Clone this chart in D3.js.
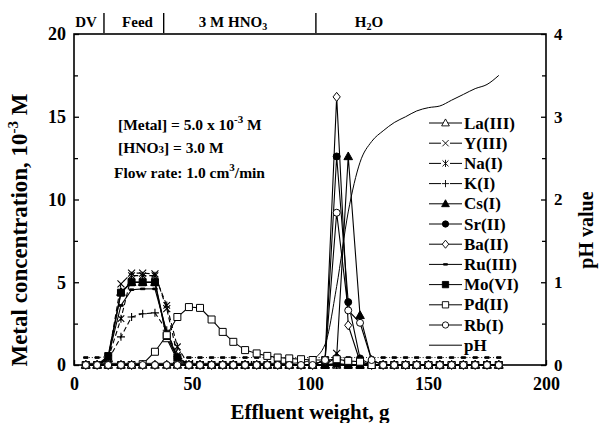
<!DOCTYPE html>
<html><head><meta charset="utf-8">
<script src="https://cdn.jsdelivr.net/npm/d3@7"></script>
<style>
body{margin:0;background:#fff}
svg text{font-family:"Liberation Serif","Times New Roman",serif;font-weight:bold;fill:#000}
</style>
</head><body>
<svg id="chart" width="600" height="423"></svg>
<script>
// ---------------- DATA ----------------
const weights = [5,9.8,14.5,19.9,24.4,29.1,34.3,39.3,43.8,
  48.7,53.4,58.3,63,67.5,72.5,77.4,81.9,86.3,91.2,
  96.2,101.1,106.4,111.3,116.2,121.2,126.1,131,135.7,140.5,
  145.2,150.2,155,160,165,170,175,180];
const La = [0,0,0.4,4.4,5.0,5.0,5.0,1.6,0.3, 0,0,0,0,0,0,0,0,0,0, 0,0,0,0,0,0,0,0,0,0, 0,0,0,0,0,0,0,0];
const Y  = [0,0,0.4,4.9,5.55,5.55,5.5,3.4,0.6, 0,0,0,0,0,0,0,0,0,0, 0,0,0,0.7,0,0,0,0,0,0, 0,0,0,0,0,0,0,0];
const Na = [0,0,0.4,2.8,5.4,5.4,5.4,3.6,1.1, 0,0,0,0,0,0,0,0,0,0, 0,0,0,0,0,0,0,0,0,0, 0,0,0,0,0,0,0,0];
const K  = [0,0,0.3,1.7,2.9,3.1,3.15,2.1,0.5, 0,0,0,0,0,0,0,0,0,0, 0,0,0,0,0,0,0,0,0,0, 0,0,0,0,0,0,0,0];
const Cs = [0,0,0,0,0,0,0,0,0, 0,0,0,0,0,0,0,0,0,0, 0,0,0,0.5,12.6,3.0,0.3,0,0,0, 0,0,0,0,0,0,0,0];
const Sr = [0,0,0,0,0,0,0,0,0, 0,0,0,0,0,0,0,0,0,0, 0,0,0.3,12.6,3.8,0.4,0,0,0,0, 0,0,0,0,0,0,0,0];
const Ba = [0,0,0,0,0,0,0,0,0, 0,0,0,0,0,0,0,0,0,0, 0,0,0.3,16.2,2.4,0.2,0,0,0,0, 0,0,0,0,0,0,0,0];
const Ru = [0.45,0.45,0.5,3.6,4.55,4.6,4.6,2.0,0.45, 0.45,0.45,0.45,0.45,0.45,0.45,0.45,0.45,0.45,0.45,
  0.45,0.45,0.45,0.45,0.45,0.45,0.45,0.45,0.45,0.45, 0.45,0.45,0.45,0.45,0.45,0.45,0.45,0.45];
const Mo = [0,0,0.54,4.37,5.0,5.0,5.0,1.75,0.45, 0,0,0,0,0,0,0,0,0,0, 0,0,0,0.1,0,0,0,0,0,0, 0,0,0,0,0,0,0,0];
const Pd = [0,0,0,0,0,0.05,0.8,1.8,2.9, 3.5,3.45,2.75,2.0,1.4,0.9,0.7,0.55,0.45,0.4,
  0.35,0.3,0.3,0.35,0.25,0.2,0,0,0,0, 0,0,0,0,0,0,0,0];
const Rb = [0,0,0,0,0,0,0,0,0, 0,0,0,0,0,0,0,0,0,0, 0,0,0.3,9.2,3.3,2.55,0.3,0,0,0, 0,0,0,0,0,0,0,0];
const pH = [0.02,0.02,0.02,0.02,0.02,0.02,0.02,0.02,0.02, 0.02,0.02,0.02,0.02,0.02,0.02,0.02,0.02,0.02,0.02,
  0.03,0.07,0.25,0.95,1.85,2.45,2.7,2.83,2.93,3.0, 3.07,3.11,3.13,3.2,3.27,3.34,3.39,3.5];

const seriesNames = ["La(III)","Y(III)","Na(I)","K(I)","Cs(I)","Sr(II)","Ba(II)","Ru(III)","Mo(VI)","Pd(II)","Rb(I)"];
const seriesValues = [La,Y,Na,K,Cs,Sr,Ba,Ru,Mo,Pd,Rb];
const xTicks = [0,50,100,150,200];
const yTicks = [0,5,10,15,20];
const pHTicks = [0,1,2,3,4];
const phaseLabels = ["DV","Feed","3 M HNO3","H2O"];
const phaseStarts = [0,12.7,38,102.5];

// ---------------- STYLES ----------------
const styles = {
  "La(III)":{m:"triUp", fill:false, dash:null},
  "Y(III)":{m:"x", fill:false, dash:"5,3"},
  "Na(I)":{m:"ast", fill:false, dash:"5,3"},
  "K(I)":{m:"plus", fill:false, dash:"5,3"},
  "Cs(I)":{m:"triUp", fill:true, dash:null},
  "Sr(II)":{m:"circle", fill:true, dash:null},
  "Ba(II)":{m:"diamond", fill:false, dash:null},
  "Ru(III)":{m:"dash", fill:true, dash:null},
  "Mo(VI)":{m:"square", fill:true, dash:null},
  "Pd(II)":{m:"square", fill:false, dash:null},
  "Rb(I)":{m:"circle", fill:false, dash:null}
};
function markerPath(t){
  switch(t){
    case "triUp": return "M0,-4.5L4.3,3.2L-4.3,3.2Z";
    case "x": return "M-3.5,-3.5L3.5,3.5M-3.5,3.5L3.5,-3.5";
    case "ast": return "M-3.3,-3.3L3.3,3.3M-3.3,3.3L3.3,-3.3M0,-4L0,4";
    case "plus": return "M-4,0L4,0M0,-4L0,4";
    case "circle": return "M3.5,0A3.5,3.5 0 1 1 -3.5,0A3.5,3.5 0 1 1 3.5,0Z";
    case "diamond": return "M0,-4.5L3.6,0L0,4.5L-3.6,0Z";
    case "dash": return "M-2.2,-0.8L2.2,-0.8L2.2,0.8L-2.2,0.8Z";
    case "square": return "M-3.5,-3.5L3.5,-3.5L3.5,3.5L-3.5,3.5Z";
  }
}

// ---------------- CHART ----------------
const svg = d3.select("#chart");
const L = 74, R = 546, T = 34, B = 365;
const x = d3.scaleLinear().domain([0,200]).range([L,R]);
const y = d3.scaleLinear().domain([0,20]).range([B,T]);
const yR = d3.scaleLinear().domain([0,4]).range([B,T]);

svg.append("rect").attr("x",L).attr("y",T).attr("width",R-L).attr("height",B-T)
  .attr("fill","none").attr("stroke","#000").attr("stroke-width",1.6);

const gL = svg.append("g").attr("transform",`translate(${L},0)`)
  .call(d3.axisLeft(y).tickValues(yTicks).tickSize(-5).tickPadding(8).tickFormat(d3.format("d")));
const gLm = svg.append("g").attr("transform",`translate(${L},0)`)
  .call(d3.axisLeft(y).tickValues([2.5,7.5,12.5,17.5]).tickSize(-4).tickFormat(""));
const gR = svg.append("g").attr("transform",`translate(${R},0)`)
  .call(d3.axisRight(yR).tickValues(pHTicks).tickSize(-5).tickPadding(8).tickFormat(d3.format("d")));
const gRm = svg.append("g").attr("transform",`translate(${R},0)`)
  .call(d3.axisRight(yR).tickValues([0.5,1.5,2.5,3.5]).tickSize(-4).tickFormat(""));
const gB = svg.append("g").attr("transform",`translate(0,${B})`)
  .call(d3.axisBottom(x).tickValues(xTicks).tickSize(-5).tickPadding(12).tickFormat(d3.format("d")));
const gBm = svg.append("g").attr("transform",`translate(0,${B})`)
  .call(d3.axisBottom(x).tickValues([25,75,125,175]).tickSize(-4).tickFormat(""));
[gL,gLm,gR,gRm,gB,gBm].forEach(g=>{
  g.select(".domain").remove();
  g.selectAll("line").attr("stroke","#000").attr("stroke-width",1.3);
  g.selectAll("text").attr("font-size",18).attr("font-family",null);
});
gR.selectAll("text").attr("font-size",17);

// phase header
const phaseCenters = [86,137.5,233,369];
phaseLabels.forEach((lab,i)=>{
  const t = svg.append("text").attr("x",phaseCenters[i]).attr("y",27).attr("text-anchor","middle").attr("font-size",15);
  if(lab==="3 M HNO3"){ t.text("3 M HNO"); t.append("tspan").attr("font-size",10).attr("dy",3).text("3"); }
  else if(lab==="H2O"){ t.text("H"); t.append("tspan").attr("font-size",10).attr("dy",3).text("2"); t.append("tspan").attr("dy",-3).text("O"); }
  else t.text(lab);
  if(i>0){
    svg.append("line").attr("x1",x(phaseStarts[i])).attr("x2",x(phaseStarts[i])).attr("y1",13).attr("y2",33)
      .attr("stroke","#000").attr("stroke-width",1.4);
  }
});

// pH line
svg.append("path").datum(pH)
  .attr("d", d3.line().x((d,i)=>x(weights[i])).y(d=>yR(d)).curve(d3.curveMonotoneX))
  .attr("fill","none").attr("stroke","#000").attr("stroke-width",1);

// series lines
seriesNames.forEach((n,si)=>{
  const vals = seriesValues[si], st = styles[n];
  if(n==="Ru(III)"){
    for(let i=0;i<vals.length-1;i++){
      const low = vals[i]<1 && vals[i+1]<1;
      svg.append("line").attr("x1",x(weights[i])).attr("x2",x(weights[i+1]))
        .attr("y1",y(vals[i])).attr("y2",y(vals[i+1]))
        .attr("stroke","#000").attr("stroke-width",low?0.9:1.1)
        .attr("stroke-dasharray",low?"1,2":null);
    }
    return;
  }
  svg.append("path").datum(vals)
    .attr("d", d3.line().x((d,i)=>x(weights[i])).y(d=>y(d)))
    .attr("fill","none").attr("stroke","#000").attr("stroke-width",n==="Mo(VI)"?1.4:1.1)
    .attr("stroke-dasharray",st.dash);
});

// markers
const order = ["Ru(III)","La(III)","K(I)","Na(I)","Y(III)","Mo(VI)","Cs(I)","Sr(II)","Ba(II)","Pd(II)","Rb(I)"];
order.forEach(n=>{
  const si = seriesNames.indexOf(n), vals = seriesValues[si], st = styles[n];
  const lineOnly = (st.m==="x"||st.m==="ast"||st.m==="plus");
  svg.append("g").selectAll("path").data(vals).join("path")
    .attr("transform",(d,i)=>`translate(${x(weights[i])},${y(d)})`)
    .attr("d",markerPath(st.m))
    .attr("fill",lineOnly?"none":(st.fill?"#000":"#fff"))
    .attr("stroke","#000").attr("stroke-width",lineOnly?1.1:1);
});

// annotations
const ann = svg.append("g").attr("font-size",15.5);
const a1 = ann.append("text").attr("x",118).attr("y",130).text("[Metal] = 5.0 x 10");
a1.append("tspan").attr("font-size",11).attr("dy",-7).text("-3");
a1.append("tspan").attr("dy",7).text(" M");
const a2 = ann.append("text").attr("x",118).attr("y",153).text("[HNO");
a2.append("tspan").attr("font-size",11).text("3");
a2.append("tspan").text("] = 3.0 M");
const a3 = ann.append("text").attr("x",114).attr("y",178).text("Flow rate: 1.0 cm");
a3.append("tspan").attr("font-size",11).attr("dy",-7).text("3");
a3.append("tspan").attr("dy",7).text("/min");

// legend
const lg = svg.append("g");
const legendItems = seriesNames.concat(["pH"]);
legendItems.forEach((n,i)=>{
  const yy = 123 + i*20.2;
  const st = styles[n];
  if(st && st.dash){
    lg.append("line").attr("x1",429).attr("x2",441).attr("y1",yy).attr("y2",yy).attr("stroke","#000");
    lg.append("line").attr("x1",450).attr("x2",462).attr("y1",yy).attr("y2",yy).attr("stroke","#000");
  } else {
    lg.append("line").attr("x1",429).attr("x2",462).attr("y1",yy).attr("y2",yy).attr("stroke","#000");
  }
  if(st){
    const lineOnly = (st.m==="x"||st.m==="ast"||st.m==="plus");
    lg.append("path").attr("transform",`translate(445.5,${yy}) scale(0.9)`).attr("d",markerPath(st.m))
      .attr("fill",lineOnly?"none":(st.fill?"#000":"#fff")).attr("stroke","#000");
  }
  lg.append("text").attr("x",464).attr("y",yy+5.5).attr("font-size",17).text(n);
});

// axis titles
const yt = svg.append("text").attr("transform","translate(27,230) rotate(-90)").attr("text-anchor","middle")
  .attr("font-size",23).text("Metal concentration, 10");
yt.append("tspan").attr("font-size",15).attr("dy",-9).text("-3");
yt.append("tspan").attr("dy",9).text(" M");
svg.append("text").attr("transform","translate(593,230) rotate(-90)").attr("text-anchor","middle")
  .attr("font-size",20).text("pH value");
svg.append("text").attr("x",(L+R)/2).attr("y",419).attr("text-anchor","middle")
  .attr("font-size",21).text("Effluent weight, g");
</script>
</body></html>
